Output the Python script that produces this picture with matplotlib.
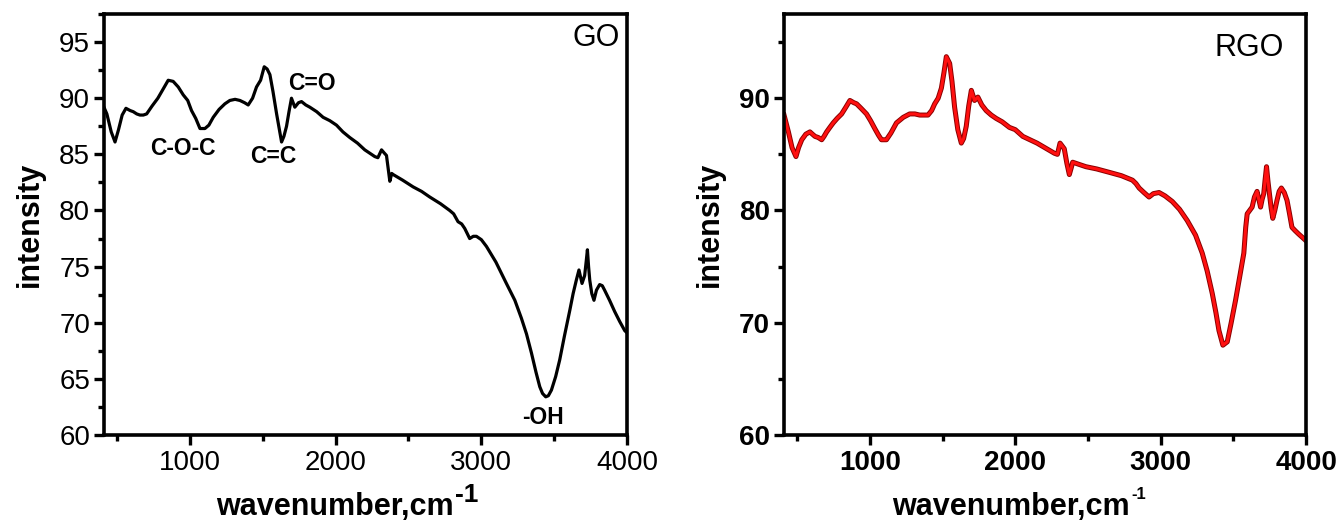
import matplotlib
matplotlib.use("Agg")
import matplotlib.pyplot as plt
from matplotlib.ticker import MultipleLocator

plt.rcParams['font.family'] = ['Liberation Sans', 'DejaVu Sans']

# GO spectrum (wavenumber, intensity)
go_x = [410, 430, 460, 486, 510, 535, 561, 590, 611, 635, 657, 680, 703, 740, 780,
        820, 851, 885, 920, 954, 985, 1011, 1040, 1069, 1103, 1130, 1160, 1200, 1240,
        1274, 1310, 1343, 1375, 1400, 1430, 1457, 1485, 1510, 1530, 1549, 1570, 1595,
        1629, 1645, 1663, 1680, 1697, 1720, 1745, 1766, 1795, 1823, 1870, 1914, 1960,
        2006, 2050, 2097, 2150, 2200, 2269, 2290, 2315, 2335, 2349, 2360, 2372, 2385,
        2395, 2460, 2532, 2590, 2646, 2720, 2783, 2810, 2840, 2865, 2886, 2905, 2920,
        2945, 2966, 3000, 3035, 3100, 3172, 3230, 3275, 3310, 3344, 3375, 3401, 3420,
        3442, 3460, 3481, 3510, 3538, 3570, 3607, 3630, 3652, 3670, 3691, 3709, 3720,
        3728, 3736, 3744, 3758, 3773, 3790, 3812, 3830, 3846, 3880, 3915, 3950, 3984, 4000]
go_y = [89.2, 88.6, 87.0, 86.1, 87.2, 88.5, 89.1, 88.9, 88.8, 88.6, 88.5, 88.5, 88.6, 89.3, 90.0,
        90.9, 91.6, 91.5, 91.0, 90.3, 89.8, 88.9, 88.2, 87.3, 87.3, 87.6, 88.3, 89.0, 89.5,
        89.8, 89.9, 89.8, 89.6, 89.4, 90.0, 91.0, 91.6, 92.8, 92.6, 92.1, 90.6, 88.6,
        86.1, 86.6, 87.5, 88.8, 90.0, 89.2, 89.6, 89.7, 89.4, 89.2, 88.8, 88.3, 88.0,
        87.6, 87.0, 86.5, 86.0, 85.4, 84.8, 84.7, 85.4, 85.1, 84.9, 83.8, 82.6, 83.3,
        83.2, 82.7, 82.1, 81.7, 81.2, 80.6, 80.0, 79.7, 79.0, 78.8, 78.4, 77.9, 77.5,
        77.7, 77.7, 77.4, 76.8, 75.4, 73.5, 72.0, 70.4, 69.0, 67.3, 65.6, 64.3, 63.7,
        63.4, 63.5, 64.0, 65.2, 66.7, 68.8, 71.1, 72.6, 73.8, 74.7, 73.5, 74.2, 75.5,
        76.5, 75.0, 73.8, 72.6, 72.0, 72.9, 73.4, 73.3, 72.9, 72.0, 71.0, 70.1, 69.3, 69.1]

# RGO spectrum (wavenumber, intensity)
rgo_x = [410, 440, 465, 492, 510, 532, 560, 588, 605, 623, 645, 669, 685, 703, 725,
         748, 775, 806, 835, 863, 890, 909, 940, 977, 1005, 1034, 1060, 1080, 1114, 1145,
         1183, 1230, 1274, 1310, 1343, 1370, 1400, 1425, 1446, 1470, 1492, 1510, 1526,
         1549, 1565, 1583, 1605, 1629, 1645, 1663, 1680, 1698, 1720, 1743, 1770, 1800,
         1835, 1869, 1910, 1960, 2000, 2052, 2150, 2269, 2290, 2308, 2337, 2355, 2372,
         2385, 2395, 2440, 2486, 2560, 2646, 2730, 2806, 2830, 2852, 2885, 2920, 2950,
         2989, 3030, 3080, 3130, 3183, 3240, 3286, 3320, 3355, 3380, 3401, 3428, 3458,
         3485, 3515, 3545, 3572, 3585, 3595, 3612, 3629, 3645, 3663, 3675, 3687, 3698,
         3709, 3718, 3728, 3738, 3748, 3760, 3771, 3785, 3800, 3815, 3830, 3850, 3869,
         3885, 3903, 3925, 3949, 3975, 4000]
rgo_y = [88.5, 87.0, 85.6, 84.8, 85.6, 86.3, 86.8, 87.0, 86.8, 86.6, 86.5, 86.3, 86.6, 87.0, 87.4,
         87.8, 88.2, 88.6, 89.2, 89.8, 89.6, 89.5, 89.1, 88.6, 88.0, 87.3, 86.7, 86.3, 86.3, 86.9,
         87.8, 88.3, 88.6, 88.6, 88.5, 88.5, 88.5, 88.9, 89.5, 90.0, 90.9, 92.3, 93.7,
         93.1, 91.5, 89.2, 87.2, 86.0, 86.4, 87.5, 89.3, 90.7, 89.8, 90.1, 89.4, 88.9,
         88.5, 88.2, 87.9, 87.4, 87.2, 86.6, 86.0, 85.1, 85.0, 86.0, 85.5, 84.2, 83.2,
         83.8, 84.3, 84.1, 83.9, 83.7, 83.4, 83.1, 82.7, 82.4, 82.0, 81.6, 81.2, 81.5,
         81.6, 81.3, 80.8, 80.1, 79.1, 77.8, 76.2, 74.6, 72.6, 70.9, 69.3, 68.0, 68.3,
         70.0, 72.0, 74.2, 76.2, 78.5, 79.7, 80.0, 80.3, 81.2, 81.7, 81.0, 80.3, 81.0,
         81.5, 82.7, 83.9, 82.6, 81.5, 80.2, 79.3, 80.0, 80.9, 81.7, 82.0, 81.6, 80.9,
         79.8, 78.5, 78.2, 77.9, 77.6, 77.3]

go_labels = ["C-O-C", "C=C", "C=O", "-OH"]
go_label_x = [952, 1569, 1837, 3421]
go_label_y = [85.5, 84.8, 91.3, 61.6]

fig = plt.figure(figsize=(13.43, 5.29), dpi=100)
ax1 = fig.add_axes([0.0774, 0.1777, 0.3895, 0.7958])
ax2 = fig.add_axes([0.5838, 0.1777, 0.3887, 0.7958])

ax1.plot(go_x, go_y, color='black', lw=2.3, solid_joinstyle='round')
ax2.plot(rgo_x, rgo_y, color='#8a0000', lw=3.6, solid_joinstyle='round')
ax2.plot(rgo_x, rgo_y, color='#ff1010', lw=2.2, solid_joinstyle='round')

for ax in (ax1, ax2):
    ax.set_xlim(410, 4000)
    ax.set_ylim(60, 97.5)
    for s in ax.spines.values():
        s.set_linewidth(2.6)
    ax.xaxis.set_major_locator(MultipleLocator(1000))
    ax.xaxis.set_minor_locator(MultipleLocator(500))
    ax.tick_params(which='both', direction='out', width=2.4, top=False, right=False)
    ax.tick_params(which='major', length=7)
    ax.tick_params(which='minor', length=4)
    ax.tick_params(axis='y', pad=3)
    ax.tick_params(axis='x', pad=4)

ax1.yaxis.set_major_locator(MultipleLocator(5))
ax1.yaxis.set_minor_locator(MultipleLocator(2.5))
ax2.yaxis.set_major_locator(MultipleLocator(10))
ax2.yaxis.set_minor_locator(MultipleLocator(5))

for lab in ax1.get_xticklabels() + ax1.get_yticklabels():
    lab.set_fontsize(20)
for lab in ax2.get_xticklabels() + ax2.get_yticklabels():
    lab.set_fontsize(20)
    lab.set_fontweight('bold')

for ax, lx in ((ax1, 0.442), (ax2, 0.435)):
    ax.set_ylabel('intensity', fontsize=22, fontweight='bold', labelpad=10)
    ax.set_xlabel('wavenumber,cm', fontsize=22, fontweight='bold')
    ax.xaxis.set_label_coords(lx, -0.135)

ax1.annotate('-1', xy=(1, 1), xycoords=ax1.xaxis.label, xytext=(1, -11),
             textcoords='offset points', ha='left', va='bottom',
             fontsize=19, fontweight='bold')
ax2.annotate('-1', xy=(1, 1), xycoords=ax2.xaxis.label, xytext=(1, -7),
             textcoords='offset points', ha='left', va='bottom',
             fontsize=12, fontweight='bold')

ax1.text(3950, 95.4, 'GO', fontsize=22, ha='right', va='center')
ax2.text(3846, 94.5, 'RGO', fontsize=22, ha='right', va='center')
for t, x, y in zip(go_labels, go_label_x, go_label_y):
    ax1.text(x, y, t, fontsize=16.5, fontweight='bold', ha='center', va='center')

fig.savefig('out.png', dpi=100)
